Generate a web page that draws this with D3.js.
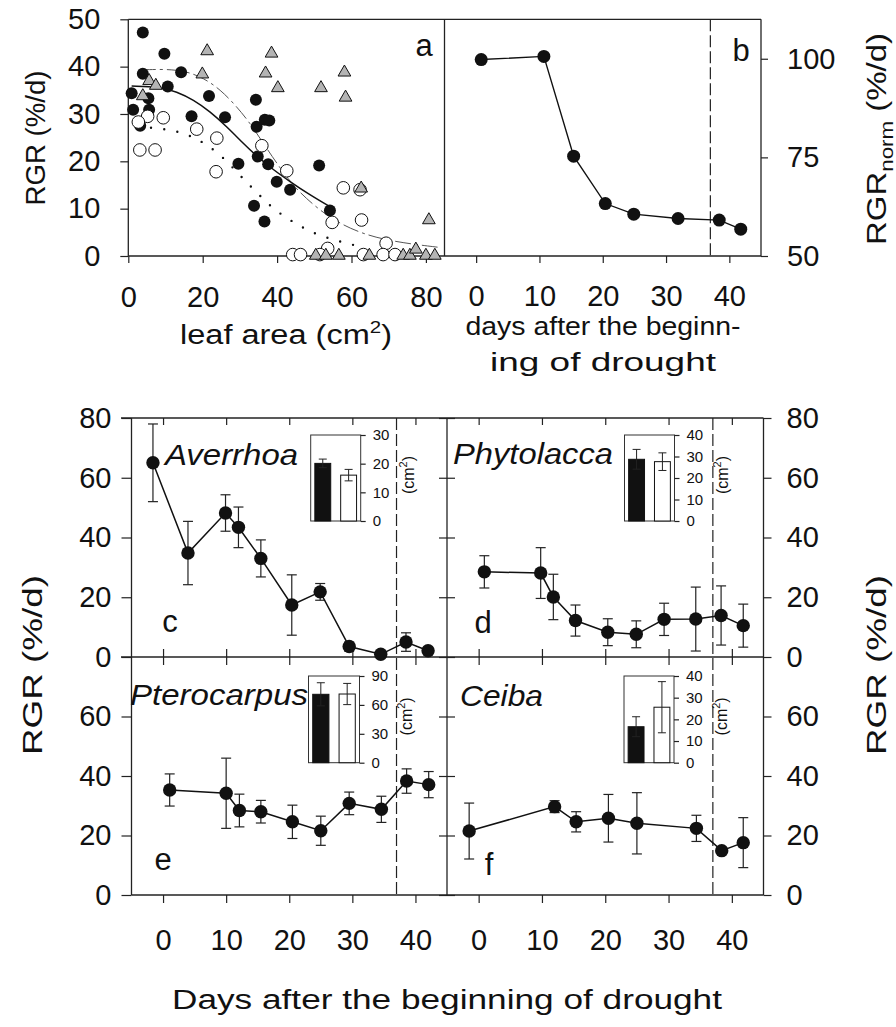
<!DOCTYPE html>
<html><head><meta charset="utf-8">
<script src="https://cdn.jsdelivr.net/npm/d3@7"></script>
<style>body{margin:0;background:#fff}svg text{font-family:"Liberation Sans",Arial,Helvetica,sans-serif;fill:#111}</style>
</head><body><script>
// ---------- DATA ----------
// Panel a: RGR vs leaf area
const aFilledLeaf = [3.9,9.7,3.9,14.2,10.6,0.9,5.4,1.3,5.6,3.2,21.7,17.0,26.0,34.3,34.5,36.7,37.9,29.6,34.8,37.6,39.9,43.5,51.3,33.8,36.6,54.2];
const aFilledRGR  = [47.2,42.7,38.5,38.8,35.8,34.4,33.3,30.9,30.9,27.5,33.8,29.5,29.3,33.0,27.3,28.8,28.6,19.5,21.0,19.4,15.7,14.0,19.1,10.6,7.3,9.6];
const aOpenLeaf = [5.2,9.4,2.7,3.1,7.2,18.4,23.8,23.6,35.9,42.6,57.8,62.3,54.8,62.7,53.6,69.3,44.2,46.3,51.5,63.2,68.5,71.7];
const aOpenRGR  = [29.5,29.2,28.3,22.4,22.4,26.8,24.9,17.8,23.3,18.0,14.4,14.0,7.1,7.6,1.6,2.7,0.3,0.3,0.3,0.3,0.3,0.3];
const aTriLeaf = [21.2,38.5,19.9,36.9,58.1,5.6,7.4,40.2,51.8,3.9,58.4,62.6,80.8,50.4,53.1,56.6,64.8,73.9,75.7,77.3,80.0,82.4];
const aTriRGR  = [43.5,43.0,38.6,38.8,39.0,37.2,36.2,35.7,35.7,34.0,33.7,14.5,7.8,0.3,0.3,0.3,0.3,0.3,0.3,1.6,0.3,0.3];
// fitted curves
const fitSolidLeaf = [0.9,8.5,13.0,17.5,22.0,26.5,30.9,34.5,39.0,43.5,48.0,54.2];
const fitSolidRGR  = [35.9,35.7,34.7,33.0,30.5,27.3,23.8,21.1,18.2,15.7,13.3,10.4];
const fitDashLeaf = [3.1,10.3,15.7,20.2,24.7,29.1,32.7,36.3,39.9,44.4,49.7,55.1,62.3,71.2,83.8];
const fitDashRGR  = [39.3,39.5,39.0,37.6,35.2,31.6,28.1,23.8,19.6,14.7,10.8,7.6,4.8,3.0,1.8];
const fitDotLeaf = [2.6,6.3,10.0,13.7,17.3,20.9,24.7,28.2,31.6,35.2,38.8,42.6,46.2,49.7,53.3,57.1,60.7];
const fitDotRGR  = [27.6,27.0,26.8,26.2,25.2,23.6,21.4,18.6,15.7,12.9,10.1,8.0,6.3,4.9,3.9,3.0,2.3];
// Panel b: normalised RGR
const bDays = [0.8,10.7,15.4,20.4,24.9,31.9,38.4,41.8];
const bRGRnorm = [99.8,100.6,75.3,63.3,60.6,59.5,59.1,56.8];
// Panels c-f: RGR (%/d) with error
const cDays = [-1.6,3.95,9.9,11.95,15.5,20.4,24.9,29.5,34.5,38.5,42.0];
const cRGR  = [65.0,34.8,48.2,43.4,33.0,17.4,21.8,3.5,0.9,5.0,2.1];
const cErr  = [13.0,10.6,6.1,6.8,6.2,10.1,2.8,1.5,0,3.1,0];
const dDays = [0.9,9.8,11.8,15.3,20.4,24.9,29.3,34.3,38.3,41.8];
const dRGR  = [28.5,28.1,20.1,12.2,8.3,7.6,12.6,12.7,13.9,10.5];
const dErr  = [5.4,8.5,7.6,5.2,4.5,4.5,5.4,10.7,9.9,7.2];
const eDays = [1.05,10.0,12.1,15.5,20.5,25.0,29.5,34.6,38.6,42.1];
const eRGR  = [35.3,34.2,28.4,28.0,24.6,21.6,30.8,28.8,38.3,37.1];
const eErr  = [5.4,11.8,5.5,3.8,5.6,4.9,3.8,4.4,4.1,4.4];
const fDays = [-1.5,12.0,15.4,20.5,25.0,34.4,38.4,41.8];
const fRGR  = [21.5,29.7,24.6,25.8,24.1,22.4,14.9,17.6];
const fErr  = [9.4,2.0,3.4,8.0,10.3,4.4,0,8.4];
// Insets: leaf area (cm2)
const insetGroups = ["control","drought"];
const cInsetArea = [20.1,16.0], cInsetErr = [1.5,2.0];
const dInsetArea = [28.7,27.6], dInsetErr = [4.6,4.1];
const eInsetArea = [71.0,71.3], eInsetErr = [12.0,11.0];
const fInsetArea = [16.6,25.6], fInsetErr = [4.6,11.8];
const droughtEnd = 37;
// tick labels
const aXTicks = [0,20,40,60,80], aYTicks = [0,10,20,30,40,50];
const bXTicks = [0,10,20,30,40], bYTicks = [50,75,100];
const dayTicks = [0,10,20,30,40];
const rgrTicksUpper = [0,20,40,60,80], rgrTicksLower = [0,20,40,60];

// ---------- SVG ----------
const svg = d3.select("body").append("svg").attr("width",896).attr("height",1027);
const FONT = '"Liberation Sans",Arial,Helvetica,sans-serif';
const TICKFS = 29;

function drawAxis(gen, tx, ty, opts={}) {
  const g = svg.append("g").attr("transform",`translate(${tx},${ty})`).call(gen);
  g.select(".domain").remove();
  g.selectAll(".tick line").attr("stroke","#222").attr("stroke-width",1.2);
  g.attr("font-size",opts.fs||TICKFS).attr("font-family",FONT);
  g.selectAll(".tick text").attr("fill","#111");
  return g;
}
function hline(x1,x2,y,w=1.3){return svg.append("line").attr("x1",x1).attr("x2",x2).attr("y1",y).attr("y2",y).attr("stroke","#222").attr("stroke-width",w);}
function vline(x,y1,y2,w=1.3){return svg.append("line").attr("x1",x).attr("x2",x).attr("y1",y1).attr("y2",y2).attr("stroke","#222").attr("stroke-width",w);}

// ---------- Panel a ----------
const xA = d3.scaleLinear([0,85],[128.3,444.5]);
const yA = d3.scaleLinear([0,50],[256,19.3]);
const xB = d3.scaleLinear([-5,45],[444.5,761]);
const yB = d3.scaleLinear([50,110],[256,19.3]);

hline(xA.range()[0], xB.range()[1], yA(50));
hline(xA.range()[0], xB.range()[1], yA(0));
vline(xA.range()[0], yA(50), yA(0));
vline(xA.range()[1], yA(50), yA(0));
vline(xB.range()[1], yA(50), yA(0));

drawAxis(d3.axisLeft(yA).tickValues(aYTicks).tickSize(8).tickPadding(20), xA.range()[0], 0);
drawAxis(d3.axisBottom(xA).tickValues(aXTicks).tickSize(7).tickPadding(23), 0, yA(0));
drawAxis(d3.axisBottom(xB).tickValues(bXTicks).tickSize(7).tickPadding(22), 0, yB(50));
drawAxis(d3.axisRight(yB).tickValues(bYTicks).tickSize(7).tickPadding(19), xB.range()[1], 0);

const gA = svg.append("g");
const lineA = (xs,ys)=>d3.line().x((d,i)=>xA(xs[i])).y((d,i)=>yA(ys[i])).curve(d3.curveBasis)(xs);
gA.append("path").attr("d",lineA(fitDashLeaf,fitDashRGR)).attr("fill","none").attr("stroke","#555").attr("stroke-width",1).attr("stroke-dasharray","16,4,3,4");
gA.append("path").attr("d",lineA(fitDotLeaf,fitDotRGR)).attr("fill","none").attr("stroke","#111").attr("stroke-width",2.4).attr("stroke-linecap","round").attr("stroke-dasharray","0,13.3");
gA.append("path").attr("d",lineA(fitSolidLeaf,fitSolidRGR)).attr("fill","none").attr("stroke","#111").attr("stroke-width",1.5);
gA.selectAll(".fc").data(aFilledLeaf).join("circle").attr("cx",(d)=>xA(d)).attr("cy",(d,i)=>yA(aFilledRGR[i])).attr("r",6).attr("fill","#111");
gA.selectAll(".oc").data(aOpenLeaf).join("circle").attr("cx",(d)=>xA(d)).attr("cy",(d,i)=>yA(aOpenRGR[i])).attr("r",6.3).attr("fill","#fff").attr("stroke","#111").attr("stroke-width",1);
const tri = d3.symbol().type(d3.symbolTriangle).size(70);
gA.selectAll(".tr").data(aTriLeaf).join("path").attr("d",tri).attr("transform",(d,i)=>`translate(${xA(d)},${yA(aTriRGR[i])+1})`).attr("fill","#b4b4b4").attr("stroke","#111").attr("stroke-width",1);

// panel b
vline(xB(droughtEnd), yB(110), yB(50), 1.2).attr("stroke-dasharray","12,4");
svg.append("path").attr("d",d3.line().x((d,i)=>xB(bDays[i])).y((d,i)=>yB(bRGRnorm[i]))(bDays)).attr("fill","none").attr("stroke","#111").attr("stroke-width",1.4);
svg.selectAll(".bp").data(bDays).join("circle").attr("cx",d=>xB(d)).attr("cy",(d,i)=>yB(bRGRnorm[i])).attr("r",6.5).attr("fill","#111");

function txt(x,y,s,fs,opts={}){
  const t = svg.append("text").attr("x",x).attr("y",y).attr("font-size",fs).attr("text-anchor",opts.anchor||"middle").text(s);
  if(opts.italic) t.attr("font-style","italic");
  if(opts.len) t.attr("textLength",opts.len).attr("lengthAdjust","spacingAndGlyphs");
  if(opts.rot) t.attr("transform",`rotate(${opts.rot},${x},${y})`);
  return t;
}
txt(424,56,"a",31);
txt(741,61,"b",31);
txt(45,138,"RGR (%/d)",28,{rot:-90,len:135});
// leaf area label with superscript
{
  const t = svg.append("text").attr("x",286).attr("y",344).attr("font-size",27).attr("text-anchor","middle")
    .attr("textLength",212).attr("lengthAdjust","spacingAndGlyphs");
  t.append("tspan").text("leaf area (cm");
  t.append("tspan").attr("font-size",17).attr("dy",-11).text("2");
  t.append("tspan").attr("dy",11).text(")");
}
txt(603,335,"days after the beginn-",26,{len:275});
txt(603,371,"ing of drought",26,{len:226});
{
  const t = svg.append("text").attr("x",886).attr("y",139).attr("font-size",28).attr("text-anchor","middle")
    .attr("transform","rotate(-90,886,139)").attr("textLength",212).attr("lengthAdjust","spacingAndGlyphs");
  t.append("tspan").text("RGR");
  t.append("tspan").attr("font-size",19).attr("dy",7).text("norm");
  t.append("tspan").attr("dy",-7).text(" (%/d)");
}

// ---------- Panels c-f ----------
const xL = d3.scaleLinear([-5,45],[131.5,447]);
const xR = d3.scaleLinear([-5,45],[447,763.5]);
const yU = d3.scaleLinear([0,80],[657,418]);
const yD = d3.scaleLinear([0,80],[895,657]);

// frames
hline(121, 763.5, yU(80));
hline(121, 763.5, yU(0));
hline(131.5, 763.5, yD(0));
vline(131.5, yU(80), yD(0));
vline(447, yU(80), yD(0));
vline(763.5, yU(80), yD(0));

// left axis
drawAxis(d3.axisLeft(yU).tickValues(rgrTicksUpper).tickSize(10).tickPadding(10), 131.5, 0);
drawAxis(d3.axisLeft(yD).tickValues(rgrTicksLower).tickSize(10).tickPadding(10), 131.5, 0);
// right axis
drawAxis(d3.axisRight(yU).tickValues(rgrTicksUpper).tickSize(8).tickPadding(15), 763.5, 0);
drawAxis(d3.axisRight(yD).tickValues(rgrTicksLower).tickSize(8).tickPadding(15), 763.5, 0);
// divider crossing ticks
for (const ys of [yU,yD]) {
  drawAxis(d3.axisLeft(ys).tickValues(ys===yU?rgrTicksUpper:rgrTicksLower).tickSize(8).tickFormat(""), 447, 0);
  drawAxis(d3.axisRight(ys).tickValues(ys===yU?rgrTicksUpper:rgrTicksLower).tickSize(8).tickFormat(""), 447, 0);
}
// x ticks
for (const xs of [xL,xR]) {
  drawAxis(d3.axisBottom(xs).tickValues(dayTicks).tickSize(7).tickFormat(""), 0, yU(80));
  drawAxis(d3.axisBottom(xs).tickValues(dayTicks).tickSize(8).tickFormat(""), 0, yU(0));
  drawAxis(d3.axisTop(xs).tickValues(dayTicks).tickSize(8).tickFormat(""), 0, yU(0));
  drawAxis(d3.axisBottom(xs).tickValues(dayTicks).tickSize(8).tickPadding(26), 0, yD(0));
}
// drought end lines
for (const xs of [xL,xR]) {
  svg.append("line").attr("x1",xs(droughtEnd)).attr("x2",xs(droughtEnd)).attr("y1",yU(80)).attr("y2",yD(0))
    .attr("stroke","#222").attr("stroke-width",1.2).attr("stroke-dasharray","12,4");
}

function seriesPanel(xs, ys, days, vals, errs) {
  const g = svg.append("g");
  const cap = 5;
  days.forEach((d,i)=>{
    if (errs[i] <= 0) return;
    const x = xs(d), y1 = ys(vals[i]+errs[i]), y2 = ys(Math.max(0,vals[i]-errs[i]));
    g.append("line").attr("x1",x).attr("x2",x).attr("y1",y1).attr("y2",y2).attr("stroke","#222").attr("stroke-width",1.2);
    g.append("line").attr("x1",x-cap).attr("x2",x+cap).attr("y1",y1).attr("y2",y1).attr("stroke","#222").attr("stroke-width",1.2);
    g.append("line").attr("x1",x-cap).attr("x2",x+cap).attr("y1",y2).attr("y2",y2).attr("stroke","#222").attr("stroke-width",1.2);
  });
  g.append("path").attr("d",d3.line().x((d,i)=>xs(days[i])).y((d,i)=>ys(vals[i]))(days)).attr("fill","none").attr("stroke","#111").attr("stroke-width",1.5);
  g.selectAll("circle").data(days).join("circle").attr("cx",d=>xs(d)).attr("cy",(d,i)=>ys(vals[i])).attr("r",6.7).attr("fill","#111");
}
seriesPanel(xL,yU,cDays,cRGR,cErr);
seriesPanel(xR,yU,dDays,dRGR,dErr);
seriesPanel(xL,yD,eDays,eRGR,eErr);
seriesPanel(xR,yD,fDays,fRGR,fErr);

function inset(x0,y0,w,h,max,ticks,vals,errs) {
  const g = svg.append("g");
  const xb = d3.scaleBand(insetGroups,[x0,x0+w]).paddingInner(0.385).paddingOuter(0.16);
  const yb = d3.scaleLinear([0,max],[y0+h,y0]);
  g.append("rect").attr("x",x0).attr("y",y0).attr("width",w).attr("height",h).attr("fill","#fff").attr("stroke","#333").attr("stroke-width",1);
  g.selectAll(".bar").data(insetGroups).join("rect").attr("x",d=>xb(d)).attr("width",xb.bandwidth())
    .attr("y",(d,i)=>yb(vals[i])).attr("height",(d,i)=>yb(0)-yb(vals[i]))
    .attr("fill",(d,i)=>i===0?"#111":"#fff").attr("stroke","#111").attr("stroke-width",1);
  insetGroups.forEach((d,i)=>{
    const cx = xb(d)+xb.bandwidth()/2, t = yb(vals[i]+errs[i]), b = yb(vals[i]-errs[i]);
    g.append("line").attr("x1",cx).attr("x2",cx).attr("y1",t).attr("y2",b).attr("stroke","#222").attr("stroke-width",1);
    g.append("line").attr("x1",cx-4).attr("x2",cx+4).attr("y1",t).attr("y2",t).attr("stroke","#222").attr("stroke-width",1);
    g.append("line").attr("x1",cx-4).attr("x2",cx+4).attr("y1",b).attr("y2",b).attr("stroke","#222").attr("stroke-width",1);
  });
  drawAxis(d3.axisRight(yb).tickValues(ticks).tickSize(5).tickPadding(7), x0+w, 0, {fs:15});
  const lx = x0+w+53, ly = y0+h/2-3;
  const t = svg.append("text").attr("x",lx).attr("y",ly).attr("font-size",16).attr("text-anchor","middle")
    .attr("transform",`rotate(-90,${lx},${ly})`);
  t.append("tspan").text("(cm");
  t.append("tspan").attr("font-size",11).attr("dy",-7).text("2");
  t.append("tspan").attr("dy",7).text(")");
}
inset(310.7,435,50,86,30,[0,10,20,30],cInsetArea,cInsetErr);
inset(624.5,435,50,86,40,[0,10,20,30,40],dInsetArea,dInsetErr);
inset(308.5,676,51,86.7,90,[0,30,60,90],eInsetArea,eInsetErr);
inset(624,676,50,86.7,40,[0,10,20,30,40],fInsetArea,fInsetErr);

txt(165,465,"Averrhoa",30,{italic:true,anchor:"start",len:133});
txt(453,464,"Phytolacca",30,{italic:true,anchor:"start",len:160});
txt(130,705,"Pterocarpus",30,{italic:true,anchor:"start",len:178});
txt(460,706,"Ceiba",30,{italic:true,anchor:"start",len:83});
txt(170,632,"c",31);
txt(483,633,"d",31);
txt(163,870,"e",31);
txt(489,875,"f",31);

txt(42,665,"RGR (%/d)",28,{rot:-90,len:180});
txt(886,665,"RGR (%/d)",28,{rot:-90,len:180});
txt(447,1009,"Days after the beginning of drought",27,{len:550});
</script></body></html>
